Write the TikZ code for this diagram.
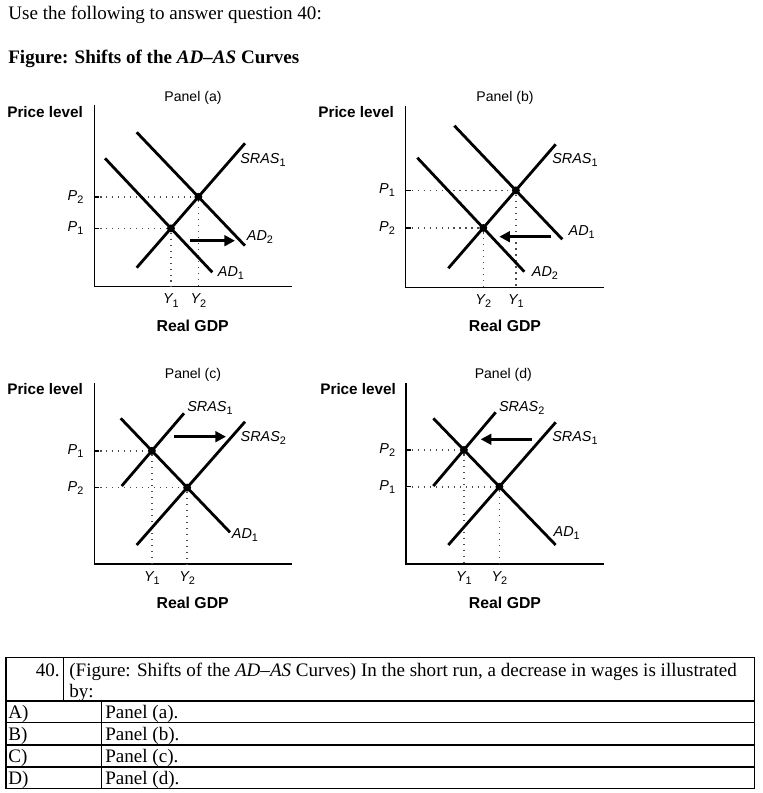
\documentclass[tikz,border=0pt]{standalone}
\usepackage{fontspec}
\setmainfont{Liberation Serif}
\setsansfont{Liberation Sans}
\usetikzlibrary{arrows.meta}
\newcommand{\lsub}[1]{\raisebox{-0.4ex}{\fontsize{6.2}{6}\selectfont\upshape #1}}

\begin{document}
\begin{tikzpicture}[x=0.02cm, y=-0.02cm,
  curve/.style={line width=1.6pt},
  axis/.style={line width=0.8pt},
  guide/.style={line width=0.9pt, dash pattern=on 0.7pt off 2.7pt, black!70},
  tick/.style={line width=0.8pt},
  shiftarr/.style={line width=1.6pt, -{Triangle[length=6pt,width=6pt]}},
  eq/.style={circle, fill=black, inner sep=0pt, minimum size=4.5pt},
  lbl/.style={font=\sffamily\itshape\fontsize{8.2}{9}\selectfont, inner sep=0pt},
  ptitle/.style={font=\sffamily\fontsize{8}{9}\selectfont, inner sep=0pt},
  plevel/.style={font=\sffamily\bfseries\fontsize{8.7}{10}\selectfont, anchor=west, inner sep=0pt},
  gdp/.style={font=\sffamily\bfseries\fontsize{9}{10}\selectfont, inner sep=0pt},
  txt/.style={font=\fontsize{10.85}{12}\selectfont, inner sep=0pt},
  rule/.style={line width=0.6pt}
]
\useasboundingbox (0,0) rectangle (762,793);

\node[txt, anchor=base west] (intro) at (8,19.3) {Use the following to answer question 40:};
\node[txt, anchor=base west] (figtitle) at (8,63.3) {\bfseries Figure: Shifts of the \textit{AD--AS} Curves};

% Panel (a)
\coordinate (a-top) at (94.3,105);
\coordinate (a-o) at (94.3,286.7);
\coordinate (a-end) at (292,286.7);
\draw[axis] (a-top) -- (a-o) -- (a-end);
\node[plevel] (a-plevel) at (7,111.7) {Price level};
\node[ptitle] (a-title) at (193,98) {Panel (a)};
\node[gdp] (a-gdp) at (192.7,326) {Real GDP};
\coordinate (a-ad1s) at (105,158.3);    \coordinate (a-ad1e) at (212.3,272.3);
\coordinate (a-ad2s) at (136.7,132.3);  \coordinate (a-ad2e) at (245,245.7);
\coordinate (a-srs) at (136.7,267.7);   \coordinate (a-sre) at (245,143.3);
\node[eq] (a-e1) at (intersection of a-ad1s--a-ad1e and a-srs--a-sre) {};
\node[eq] (a-e2) at (intersection of a-ad2s--a-ad2e and a-srs--a-sre) {};
\draw[guide] (a-o |- a-e1) -- (a-e1);
\draw[guide] (a-o |- a-e2) -- (a-e2);
\draw[guide] (a-e1) -- (a-e1 |- a-o);
\draw[guide] (a-e2) -- (a-e2 |- a-o);
\draw[tick] (a-o |- a-e1) -- ++(5,0);
\draw[tick] (a-o |- a-e2) -- ++(5,0);
\draw[curve] (a-ad1s) -- (a-ad1e);
\draw[curve] (a-ad2s) -- (a-ad2e);
\draw[curve] (a-srs) -- (a-sre);
\node[lbl, left=6pt] (a-p1) at (a-o |- a-e1) {P\lsub{1}};
\node[lbl, left=6pt] (a-p2) at (a-o |- a-e2) {P\lsub{2}};
\node[lbl, below=4pt] (a-y1) at (a-e1 |- a-o) {Y\lsub{1}};
\node[lbl, below=4pt] (a-y2) at (a-e2 |- a-o) {Y\lsub{2}};
\node[lbl] (a-sras1) at (263,160) {SRAS\lsub{1}};
\node[lbl] (a-ad2) at (260,236.7) {AD\lsub{2}};
\node[lbl] (a-ad1) at (231,273) {AD\lsub{1}};
\coordinate (a-from) at (190,240.7);
\coordinate (a-to) at (235,240.7);
\draw[shiftarr] (a-from) -- (a-to);

% Panel (b)
\coordinate (b-top) at (405.7,106);
\coordinate (b-o) at (405.7,287.3);
\coordinate (b-end) at (604,287.3);
\draw[axis] (b-top) -- (b-o) -- (b-end);
\node[plevel] (b-plevel) at (318,111.7) {Price level};
\node[ptitle] (b-title) at (505,98) {Panel (b)};
\node[gdp] (b-gdp) at (505,326) {Real GDP};
\coordinate (b-ad2s) at (417.3,157.7);  \coordinate (b-ad2e) at (524.3,271.7);
\coordinate (b-ad1s) at (454.3,125.7);  \coordinate (b-ad1e) at (562.3,239.3);
\coordinate (b-srs) at (448.3,268.3);   \coordinate (b-sre) at (555.7,144.3);
\node[eq] (b-e1) at (intersection of b-ad1s--b-ad1e and b-srs--b-sre) {};
\node[eq] (b-e2) at (intersection of b-ad2s--b-ad2e and b-srs--b-sre) {};
\draw[guide] (b-o |- b-e1) -- (b-e1);
\draw[guide] (b-o |- b-e2) -- (b-e2);
\draw[guide] (b-e1) -- (b-e1 |- b-o);
\draw[guide] (b-e2) -- (b-e2 |- b-o);
\draw[tick] (b-o |- b-e1) -- ++(5,0);
\draw[tick] (b-o |- b-e2) -- ++(5,0);
\draw[curve] (b-ad1s) -- (b-ad1e);
\draw[curve] (b-ad2s) -- (b-ad2e);
\draw[curve] (b-srs) -- (b-sre);
\node[lbl, left=6pt] (b-p1) at (b-o |- b-e1) {P\lsub{1}};
\node[lbl, left=6pt] (b-p2) at (b-o |- b-e2) {P\lsub{2}};
\node[lbl, below=4pt] (b-y1) at (b-e1 |- b-o) {Y\lsub{1}};
\node[lbl, below=4pt] (b-y2) at (b-e2 |- b-o) {Y\lsub{2}};
\node[lbl] (b-sras1) at (575,160) {SRAS\lsub{1}};
\node[lbl] (b-ad1) at (581.7,231.7) {AD\lsub{1}};
\node[lbl] (b-ad2) at (545,273.3) {AD\lsub{2}};
\coordinate (b-from) at (550.7,236.7);
\coordinate (b-to) at (499.3,236.7);
\draw[shiftarr] (b-from) -- (b-to);

% Panel (c)
\coordinate (c-top) at (94.3,383);
\coordinate (c-o) at (94.3,564);
\coordinate (c-end) at (292.3,564);
\draw[axis] (c-top) -- (c-o) -- (c-end);
\node[plevel] (c-plevel) at (7,389.3) {Price level};
\node[ptitle] (c-title) at (193,375) {Panel (c)};
\node[gdp] (c-gdp) at (192.7,602.7) {Real GDP};
\coordinate (c-sr1s) at (121.7,486);    \coordinate (c-sr1e) at (184,413.3);
\coordinate (c-sr2s) at (136.7,545);    \coordinate (c-sr2e) at (245,421.7);
\coordinate (c-ads) at (120.7,418.3);   \coordinate (c-ade) at (230,532.3);
\node[eq] (c-e1) at (intersection of c-ads--c-ade and c-sr1s--c-sr1e) {};
\node[eq] (c-e2) at (intersection of c-ads--c-ade and c-sr2s--c-sr2e) {};
\draw[guide] (c-o |- c-e1) -- (c-e1);
\draw[guide] (c-o |- c-e2) -- (c-e2);
\draw[guide] (c-e1) -- (c-e1 |- c-o);
\draw[guide] (c-e2) -- (c-e2 |- c-o);
\draw[tick] (c-o |- c-e1) -- ++(5,0);
\draw[tick] (c-o |- c-e2) -- ++(5,0);
\draw[curve] (c-sr1s) -- (c-sr1e);
\draw[curve] (c-sr2s) -- (c-sr2e);
\draw[curve] (c-ads) -- (c-ade);
\node[lbl, left=6pt] (c-p1) at (c-o |- c-e1) {P\lsub{1}};
\node[lbl, left=6pt] (c-p2) at (c-o |- c-e2) {P\lsub{2}};
\node[lbl, below=4pt] (c-y1) at (c-e1 |- c-o) {Y\lsub{1}};
\node[lbl, below=4pt] (c-y2) at (c-e2 |- c-o) {Y\lsub{2}};
\node[lbl] (c-sras1) at (210,407.7) {SRAS\lsub{1}};
\node[lbl] (c-sras2) at (263.3,438.3) {SRAS\lsub{2}};
\node[lbl] (c-ad1) at (245,535) {AD\lsub{1}};
\coordinate (c-from) at (174,436.7);
\coordinate (c-to) at (226,436.7);
\draw[shiftarr] (c-from) -- (c-to);

% Panel (d)
\coordinate (d-top) at (406,383);
\coordinate (d-o) at (406,564);
\coordinate (d-end) at (604,564);
\draw[axis] (d-top) -- (d-o) -- (d-end);
\node[plevel] (d-plevel) at (320,389.3) {Price level};
\node[ptitle] (d-title) at (503.3,375) {Panel (d)};
\node[gdp] (d-gdp) at (505,602.7) {Real GDP};
\coordinate (d-sr2s) at (433.3,486);    \coordinate (d-sr2e) at (495.7,412.3);
\coordinate (d-sr1s) at (448.3,545);    \coordinate (d-sr1e) at (555.7,422.3);
\coordinate (d-ads) at (433.3,418.3);   \coordinate (d-ade) at (555.7,545);
\node[eq] (d-e2) at (intersection of d-ads--d-ade and d-sr2s--d-sr2e) {};
\node[eq] (d-e1) at (intersection of d-ads--d-ade and d-sr1s--d-sr1e) {};
\draw[guide] (d-o |- d-e1) -- (d-e1);
\draw[guide] (d-o |- d-e2) -- (d-e2);
\draw[guide] (d-e1) -- (d-e1 |- d-o);
\draw[guide] (d-e2) -- (d-e2 |- d-o);
\draw[tick] (d-o |- d-e1) -- ++(5,0);
\draw[tick] (d-o |- d-e2) -- ++(5,0);
\draw[curve] (d-sr2s) -- (d-sr2e);
\draw[curve] (d-sr1s) -- (d-sr1e);
\draw[curve] (d-ads) -- (d-ade);
\node[lbl, left=6pt] (d-p1) at (d-o |- d-e1) {P\lsub{1}};
\node[lbl, left=6pt] (d-p2) at (d-o |- d-e2) {P\lsub{2}};
\node[lbl, below=4pt] (d-y1) at (d-e2 |- d-o) {Y\lsub{1}};
\node[lbl, below=4pt] (d-y2) at (d-e1 |- d-o) {Y\lsub{2}};
\node[lbl] (d-sras2) at (521.7,407.7) {SRAS\lsub{2}};
\node[lbl] (d-sras1) at (575,438.3) {SRAS\lsub{1}};
\node[lbl] (d-ad1) at (566.7,533.3) {AD\lsub{1}};
\coordinate (d-from) at (531.7,439.3);
\coordinate (d-to) at (480.7,439.3);
\draw[shiftarr] (d-from) -- (d-to);

% question table
\coordinate (tab-nw) at (6,657.3);
\coordinate (tab-se) at (754.3,788.3);
\draw[rule] (tab-nw) rectangle (tab-se);
\foreach \y in {701,722.7,745,767}
  \draw[rule] (6,\y) -- (754.3,\y);
\draw[rule] (63.3,657.3) -- (63.3,701);
\draw[rule] (101.7,701) -- (101.7,788.3);
\node[txt, anchor=base east] (q-num) at (60,676) {40.};
\node[txt, anchor=base west] (q-line1) at (69,676) {(Figure: Shifts of the \textit{AD--AS} Curves) In the short run, a decrease in wages is illustrated};
\node[txt, anchor=base west] (q-line2) at (69,697) {by:};
\node[txt, anchor=base west] (opt-a) at (8,718.5) {A)};
\node[txt, anchor=base west] (opt-b) at (8,740.5) {B)};
\node[txt, anchor=base west] (opt-c) at (8,762.5) {C)};
\node[txt, anchor=base west] (opt-d) at (8,784) {D)};
\node[txt, anchor=base west] (ans-a) at (105,718.5) {Panel (a).};
\node[txt, anchor=base west] (ans-b) at (105,740.5) {Panel (b).};
\node[txt, anchor=base west] (ans-c) at (105,762.5) {Panel (c).};
\node[txt, anchor=base west] (ans-d) at (105,784) {Panel (d).};
\end{tikzpicture}
\end{document}
